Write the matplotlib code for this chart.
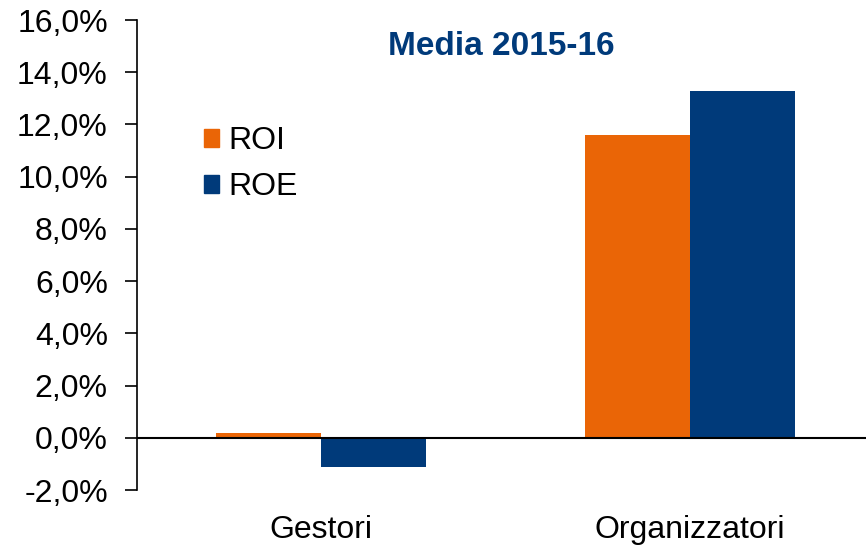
import numpy as np
import matplotlib.pyplot as plt
from matplotlib.patches import Patch

plt.rcParams['font.family'] = ['Liberation Sans', 'DejaVu Sans']

# dati
categorie = ["Gestori", "Organizzatori"]
roi = [0.2, 11.6]
roe = [-1.1, 13.3]
col_roi = "#EA6506"
col_roe = "#003A7A"

fig = plt.figure(figsize=(8.66, 5.46), dpi=100)
ax = fig.add_axes([137/866, 56/546, 1 - 137/866, 470/546])

x = np.arange(len(categorie))
w = 0.285
ax.bar(x - w/2, roi, w, color=col_roi)
ax.bar(x + w/2, roe, w, color=col_roe)

ax.axhline(0, color="black", linewidth=1.5, zorder=3)

ax.set_ylim(-2, 16)
ax.set_xlim(-0.5, 1.477)
yt = np.arange(-2, 17, 2)
ax.set_yticks(yt)
ax.set_yticklabels([("%.1f%%" % v).replace(".", ",") for v in yt], fontsize=23)
ax.set_xticks(x)
ax.set_xticklabels(categorie, fontsize=23)
ax.tick_params(axis="x", length=0, pad=18)
ax.tick_params(axis="y", length=9, width=1.2, direction="out", pad=12)

for s in ["top", "right", "bottom"]:
    ax.spines[s].set_visible(False)
ax.spines["left"].set_linewidth(1.2)

ax.text(0.5, 0.943, "Media 2015-16", transform=ax.transAxes, ha="center", va="center",
        fontsize=24, fontweight="bold", color=col_roe)

handles = [Patch(color=col_roi, label="ROI"), Patch(color=col_roe, label="ROE")]
ax.legend(handles=handles, loc="upper left", bbox_to_anchor=(0.052, 0.835), frameon=False,
          fontsize=23, handlelength=0.47, handleheight=0.47, handletextpad=0.3,
          labelspacing=0.5)

fig.savefig("out.png", dpi=100)
